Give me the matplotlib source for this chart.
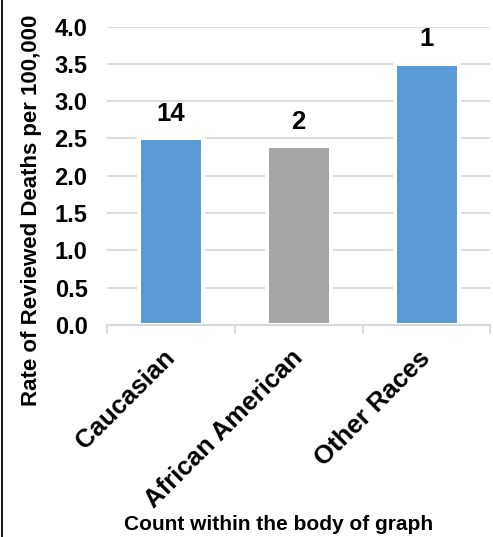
import matplotlib
matplotlib.use("Agg")
import matplotlib.pyplot as plt
from matplotlib.lines import Line2D

plt.rcParams['font.family'] = ['Liberation Sans', 'DejaVu Sans']
plt.rcParams['font.weight'] = 'bold'

categories = ["Caucasian", "African American", "Other Races"]
rates = [2.5, 2.4, 3.5]
counts = ["14", "2", "1"]
colors = ["#5b9bd5", "#a5a5a5", "#5b9bd5"]
yticks = [0.0, 0.5, 1.0, 1.5, 2.0, 2.5, 3.0, 3.5, 4.0]

W, H = 493, 537
fig = plt.figure(figsize=(W / 100, H / 100), dpi=100)
ax = fig.add_axes([107 / W, 1 - 325 / H, (490.5 - 107) / W, (325 - 26.5) / H])

x = list(range(len(categories)))
bars = ax.bar(x, rates, width=0.5, color=colors, edgecolor="white", linewidth=2.9, zorder=2)

ax.set_xlim(-0.5, len(categories) - 0.5)
ax.set_ylim(0, 4.0)
ax.set_yticks(yticks)
ax.set_yticklabels([f"{v:.1f}" for v in yticks], fontsize=17, fontweight='bold')
ax.yaxis.grid(True, color="#d9d9d9", linewidth=1.3, zorder=0)
ax.set_axisbelow(True)
ax.tick_params(axis='y', length=0, pad=14)

ax.set_xticks(x)
ax.set_xticklabels([])
ax.set_xticks([-0.5, 0.5, 1.5, 2.5], minor=True)
ax.tick_params(axis='x', which='major', length=0)
ax.tick_params(axis='x', which='minor', length=6.5, width=1.3, color="#d9d9d9", direction='out')

for s in ['top', 'right', 'left']:
    ax.spines[s].set_visible(False)
ax.spines['bottom'].set_color("#d9d9d9")
ax.spines['bottom'].set_linewidth(1.5)
ax.spines['bottom'].set_zorder(3)

for xi, name in zip(x, categories):
    ax.annotate(name, xy=(xi, 0), xycoords='data', xytext=(-6, -15), textcoords='offset points',
                rotation=45, ha='right', va='top', rotation_mode='anchor',
                fontsize=18.5, fontweight='bold', annotation_clip=False)

for xi, v, c in zip(x, rates, counts):
    ax.annotate(c, xy=(xi, v), xytext=(0, 12.5), textcoords='offset points',
                ha='center', va='baseline', fontsize=18.5, fontweight='bold')

fig.text(32 / W, 1 - 210 / H, "Rate of Reviewed Deaths per 100,000", rotation=90,
         ha='center', va='center', fontsize=16, fontweight='bold')
fig.text(279 / W, 1 - 524 / H, "Count within the body of graph",
         ha='center', va='center', fontsize=15, fontweight='bold')

fig.add_artist(Line2D([2 / W, 2 / W], [0, 1], transform=fig.transFigure, color='black', linewidth=1.3))

fig.savefig("out.png", dpi=100)
